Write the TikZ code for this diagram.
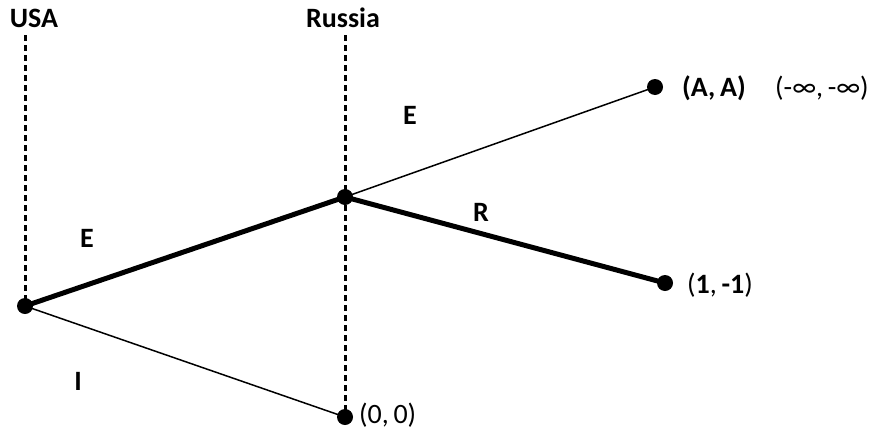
\documentclass[tikz,border=0pt]{standalone}
\usepackage{fontspec}
\setmainfont{Carlito}
\begin{document}
\begin{tikzpicture}[x=1pt,y=-1pt,
  dot/.style={circle,fill=black,inner sep=0pt,minimum size=16pt},
  lbl/.style={font=\fontsize{28}{32}\selectfont\bfseries,inner sep=0pt},
  txt/.style={font=\fontsize{28}{32}\selectfont,inner sep=0pt},
  thinline/.style={line width=1.5pt},
  thickline/.style={line width=5pt},
  guide/.style={line width=3pt,dash pattern=on 6pt off 4pt}]
\useasboundingbox (0,0) rectangle (870,434);
\node[dot] (u) at (25,306) {};
\node[dot] (r) at (345,197) {};
\node[dot] (aa) at (655,87) {};
\node[dot] (one) at (665,283) {};
\node[dot] (zero) at (345,417) {};
\coordinate (utop) at (25,35);
\coordinate (rtop) at (345,35);
\node[lbl] (usa) at (34,18) {USA};
\node[lbl] (russia) at (343,18) {Russia};
\draw[guide] (utop) -- (u.center);
\draw[guide] (rtop) -- (zero.center);
\draw[thickline] (u.center) -- (r.center);
\draw[thickline] (r.center) -- (one.center);
\draw[thinline] (r.center) -- (aa.center);
\draw[thinline] (u.center) -- (zero.center);
\node[lbl] (e1) at (87,238) {E};
\node[lbl] (i1) at (78,381) {I};
\node[lbl] (e2) at (410,115) {E};
\node[lbl] (r2) at (481,212) {R};
\node[lbl,anchor=west] (paa) at (682,88) {(A,\,A)};
\node[txt,anchor=west] (pinf) at (775,88) {(-∞,\,-∞)};
\node[txt,anchor=west] (pone) at (687,285) {(\textbf{1},\,\textbf{-1})};
\node[txt,anchor=west] (pzero) at (359,415) {(0,\,0)};
\end{tikzpicture}
\end{document}
